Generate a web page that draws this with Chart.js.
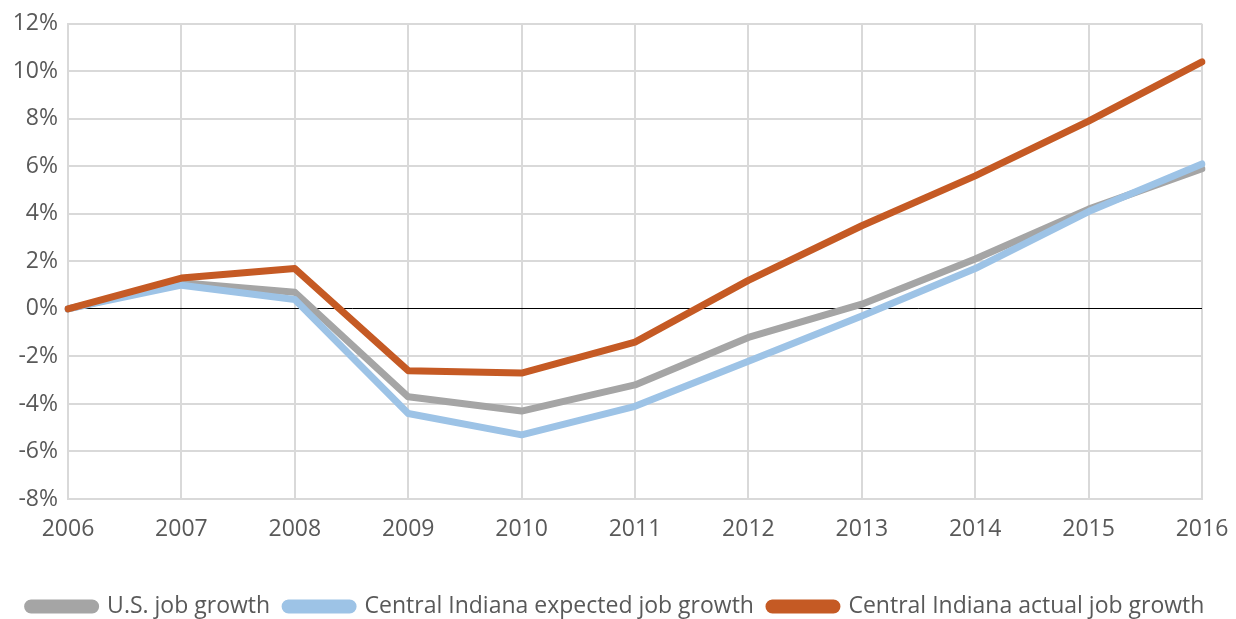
<!DOCTYPE html>
<html>
<head>
<meta charset="utf-8">
<script src="https://cdn.jsdelivr.net/npm/chart.js@4/dist/chart.umd.min.js"></script>
<style>
html,body{margin:0;padding:0;background:#fff;}
#wrap{width:1236px;height:619px;position:relative;}
</style>
</head>
<body>
<div id="wrap"><canvas id="c" width="1236" height="619"></canvas></div>
<script>
const years = ['2006','2007','2008','2009','2010','2011','2012','2013','2014','2015','2016'];
const usGrowth = [0, 1.1, 0.7, -3.7, -4.3, -3.2, -1.2, 0.2, 2.1, 4.2, 5.9];
const ciExpected = [0, 1.0, 0.4, -4.4, -5.3, -4.1, -2.2, -0.3, 1.7, 4.1, 6.1];
const ciActual = [0, 1.3, 1.7, -2.6, -2.7, -1.4, 1.2, 3.5, 5.6, 7.9, 10.4];
const seriesNames = ['U.S. job growth', 'Central Indiana expected job growth', 'Central Indiana actual job growth'];
const seriesColors = ['#a5a5a5', '#9dc3e6', '#c55a24'];

const FONT = "'Open Sans', 'DejaVu Sans', sans-serif";

new Chart(document.getElementById('c'), {
  type: 'line',
  data: {
    labels: years,
    datasets: [
      {label: seriesNames[0], data: usGrowth, borderColor: seriesColors[0], backgroundColor: seriesColors[0], order: 3},
      {label: seriesNames[1], data: ciExpected, borderColor: seriesColors[1], backgroundColor: seriesColors[1], order: 2},
      {label: seriesNames[2], data: ciActual, borderColor: seriesColors[2], backgroundColor: seriesColors[2], order: 1}
    ]
  },
  options: {
    responsive: false,
    animation: false,
    devicePixelRatio: 1,
    layout: {padding: {left: 0, right: 4, top: 21, bottom: -9}},
    elements: {
      line: {borderWidth: 7, tension: 0, borderCapStyle: 'round', borderJoinStyle: 'round'},
      point: {radius: 0, hoverRadius: 0}
    },
    plugins: {
      tooltip: {enabled: false},
      legend: {
        position: 'bottom',
        labels: {
          sort: (a, b) => a.datasetIndex - b.datasetIndex,
          boxWidth: 68,
          boxHeight: 7,
          useBorderRadius: true,
          borderRadius: 3.5,
          padding: 15,
          color: '#595959',
          font: {family: FONT, size: 23}
        }
      }
    },
    scales: {
      x: {
        offset: false,
        grid: {color: '#d9d9d9', lineWidth: 2, drawTicks: false},
        border: {color: '#d9d9d9', width: 2},
        ticks: {color: '#595959', font: {family: FONT, size: 23}, padding: 17, maxRotation: 0},
        afterFit: (s) => { s.height = 81; s.paddingLeft = 0; s.paddingRight = 34; }
      },
      y: {
        min: -8, max: 12,
        grid: {
          color: (ctx) => ctx.tick && ctx.tick.value === 0 ? '#000000' : '#d9d9d9',
          lineWidth: (ctx) => ctx.tick && ctx.tick.value === 0 ? 1 : 2,
          drawTicks: false
        },
        border: {color: '#d9d9d9', width: 2},
        ticks: {stepSize: 2, color: '#595959', font: {family: FONT, size: 23}, padding: 10,
          callback: (v) => v + '%'},
        afterFit: (s) => { s.width = 68; }
      }
    }
  }
});
</script>
</body>
</html>
